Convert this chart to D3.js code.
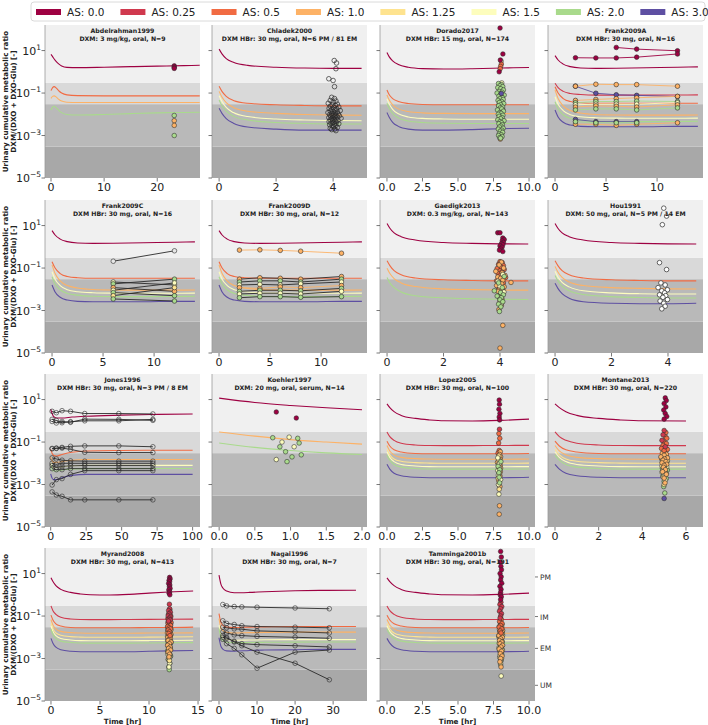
<!DOCTYPE html>
<html><head><meta charset="utf-8">
<script src="https://cdn.jsdelivr.net/npm/d3@7"></script>
<style>body{margin:0;background:#fff}text{font-family:"DejaVu Sans",sans-serif}</style>
</head><body><svg id="c" width="708" height="725"></svg>
<script>
// ---------- legend / categories ----------
const AS_LEVELS = [0, 0.25, 0.5, 1.0, 1.25, 1.5, 2.0, 3.0];
const AS_LABELS = ['AS: 0.0','AS: 0.25','AS: 0.5','AS: 1.0','AS: 1.25','AS: 1.5','AS: 2.0','AS: 3.0'];
const AS_COLORS = ['#9e0142','#d0394e','#f16b43','#fdb266','#fee38f','#fdfdbd','#a9da8c','#5e4fa2'];
const Y_TICKS = [10, 0.1, 1e-3, 1e-5];
const Y_TICK_EXP = ['1','\u22121','\u22123','\u22125'];
const BAND_EDGES = [1e-5, 3e-4, 0.03, 0.3, 160];
const BAND_NAMES = ['UM','EM','IM','PM'];

// ---------- simulated curves ----------
const abdTimes = [0,0.3,0.6,1,1.5,2,3,5,10,15,20,25,28];
const abdCurves = [
 [0,   [6.6,5.2,4.0,3.0,2.3,1.9,1.62,1.58,1.65,1.75,1.85,1.95,2.05]],
 [0.5, [0.13,0.18,0.2,0.17,0.125,0.1,0.082,0.076,0.074,0.074,0.074,0.074,0.074]],
 [1.0, [0.056,0.07,0.074,0.064,0.05,0.042,0.037,0.036,0.036,0.036,0.036,0.036,0.036]],
 [2.0, [0.016,0.022,0.024,0.02,0.015,0.012,0.0098,0.0092,0.0098,0.0108,0.0117,0.0122,0.0125]]
];
const chlTimes = [0,0.1,0.25,0.5,1,2,3,4,5];
const chlCurves = [
 [0,   [11.7,7,4.2,2.8,2.0,1.65,1.5,1.45,1.45]],
 [0.5, [0.21,0.12,0.07,0.045,0.033,0.028,0.026,0.025,0.025]],
 [1.0, [0.12,0.065,0.035,0.021,0.014,0.011,0.0097,0.0092,0.009]],
 [1.5, [0.075,0.04,0.021,0.012,0.0078,0.006,0.0054,0.0051,0.005]],
 [2.0, [0.047,0.025,0.014,0.0082,0.0054,0.0041,0.0037,0.0035,0.0035]],
 [3.0, [0.019,0.011,0.0062,0.0038,0.0025,0.002,0.0018,0.0018,0.0018]]
];
const dorTimes = [0,0.15,0.4,0.8,1.5,2.5,4,6,8,10];
const dorCurves = [
 [0,   [8.1,5.2,3.3,2.2,1.65,1.42,1.35,1.4,1.5,1.6]],
 [0.5, [0.14,0.085,0.055,0.04,0.032,0.029,0.028,0.028,0.028,0.028]],
 [1.0, [0.081,0.048,0.028,0.018,0.0135,0.0117,0.011,0.0107,0.0107,0.0107]],
 [1.5, [0.053,0.031,0.017,0.0105,0.0075,0.0064,0.006,0.0058,0.0058,0.0058]],
 [2.0, [0.033,0.02,0.011,0.0068,0.0048,0.0041,0.0038,0.0037,0.0037,0.0037]],
 [3.0, [0.012,0.0075,0.0042,0.0027,0.002,0.0018,0.0018,0.0019,0.0021,0.0022]]
];
const frkTimes = [0,0.3,0.8,1.5,2.5,4,6,9,12,14];
const frkCurves = [
 [0,    [5.8,3.6,2.3,1.75,1.52,1.45,1.47,1.55,1.65,1.7]],
 [0.25, [0.29,0.18,0.12,0.095,0.085,0.08,0.08,0.08,0.081,0.082]],
 [0.5,  [0.2,0.1,0.055,0.04,0.035,0.033,0.033,0.033,0.033,0.033]],
 [1.0,  [0.14,0.055,0.025,0.015,0.0115,0.0098,0.0093,0.0091,0.0091,0.0092]],
 [1.5,  [0.067,0.03,0.015,0.0095,0.0077,0.0069,0.0066,0.0065,0.0065,0.0066]],
 [2.0,  [0.039,0.018,0.0095,0.0064,0.0053,0.0047,0.0045,0.0045,0.0046,0.0047]],
 [3.0,  [0.016,0.0075,0.0042,0.0031,0.0027,0.0026,0.0026,0.0026,0.0027,0.0027]]
];
const gaeTimes = [0,0.1,0.25,0.5,1,2,3,4,5];
const gaeCurves = [
 [0,   [12.6,7.5,4.5,3.0,2.1,1.6,1.45,1.38,1.35]],
 [0.5, [0.22,0.13,0.075,0.048,0.034,0.028,0.026,0.025,0.025]],
 [1.0, [0.098,0.055,0.032,0.02,0.0135,0.0105,0.0096,0.0092,0.0091]],
 [2.0, [0.036,0.02,0.012,0.0075,0.005,0.004,0.0036,0.0034,0.0033]]
];
const houCurves = [
 [0,   [12.6,7.5,4.5,3.0,2.1,1.6,1.45,1.38,1.35]],
 [0.5, [0.22,0.13,0.075,0.048,0.034,0.028,0.026,0.025,0.025]],
 [1.0, [0.12,0.065,0.036,0.022,0.015,0.012,0.011,0.0105,0.0103]],
 [1.5, [0.07,0.038,0.021,0.013,0.0085,0.0068,0.0062,0.006,0.006]],
 [2.0, [0.045,0.025,0.014,0.0085,0.0057,0.0045,0.0041,0.0039,0.0039]],
 [3.0, [0.019,0.011,0.0062,0.0038,0.0026,0.0022,0.0021,0.0021,0.0022]]
];
const h30Times = [0,0.2,0.5,1,2,3,4,6,8,10,12,14.5];
const h30Curves = [
 [0,    [6.3,4.2,2.7,1.8,1.3,1.1,1.0,0.98,1.05,1.2,1.35,1.5]],
 [0.25, [0.3,0.18,0.12,0.088,0.073,0.069,0.068,0.068,0.069,0.07,0.071,0.072]],
 [0.5,  [0.11,0.065,0.043,0.034,0.029,0.028,0.028,0.028,0.028,0.029,0.029,0.03]],
 [1.0,  [0.069,0.038,0.025,0.019,0.0165,0.0158,0.0155,0.0155,0.0155,0.0158,0.016,0.0162]],
 [1.25, [0.045,0.025,0.016,0.0125,0.0107,0.0102,0.01,0.01,0.01,0.0102,0.0104,0.0106]],
 [1.5,  [0.034,0.019,0.012,0.0088,0.0075,0.007,0.0069,0.0069,0.0069,0.007,0.0071,0.0072]],
 [2.0,  [0.024,0.014,0.0088,0.0066,0.0057,0.0054,0.0053,0.0053,0.0053,0.0054,0.0055,0.0056]],
 [3.0,  [0.0089,0.0053,0.0034,0.0026,0.0022,0.0021,0.0021,0.0021,0.0021,0.0022,0.0023,0.0024]]
];
const jonTimes = [0,1,2,4,8,15,25,50,75,100];
const jonCurves = [
 [0,   [3.5,2.2,1.6,1.35,1.35,1.5,1.65,1.85,2.0,2.1]],
 [0.5, [0.045,0.03,0.024,0.022,0.026,0.033,0.038,0.04,0.041,0.041]],
 [1.0, [0.02,0.013,0.011,0.011,0.012,0.014,0.015,0.015,0.015,0.015]],
 [1.5, [0.011,0.0072,0.0062,0.0062,0.0068,0.0076,0.008,0.008,0.008,0.008]],
 [2.0, [0.0078,0.005,0.0043,0.0043,0.0048,0.0054,0.0056,0.0057,0.0057,0.0057]],
 [3.0, [0.0032,0.002,0.0017,0.0017,0.0021,0.0027,0.003,0.003,0.003,0.003]]
];
const koeTimes = [0,0.5,1,1.5,2];
const koeCurves = [
 [0,   [11.7,7.3,5.3,4.1,3.3]],
 [1.0, [0.3,0.19,0.13,0.1,0.08]],
 [2.0, [0.09,0.056,0.04,0.031,0.026]]
];
const nagTimes = [0,0.5,1,2,4,8,12,20,28,36];
const nagCurves = [
 [0,   [8.5,3.2,2.1,1.5,1.25,1.3,1.4,1.55,1.62,1.65]],
 [0.5, [0.13,0.05,0.037,0.03,0.029,0.03,0.031,0.032,0.032,0.032]],
 [1.0, [0.075,0.028,0.021,0.017,0.016,0.0165,0.017,0.0175,0.0175,0.0175]],
 [1.5, [0.037,0.014,0.0098,0.0078,0.0072,0.0074,0.0076,0.0078,0.0078,0.0078]],
 [2.0, [0.026,0.0098,0.0071,0.0058,0.0055,0.0057,0.0058,0.0059,0.006,0.006]],
 [3.0, [0.0095,0.0038,0.0028,0.0023,0.0022,0.0024,0.0025,0.0026,0.0027,0.0027]]
];

// ---------- individual time courses ----------
const frankATimes = [2,4,6,8,12];
const frankASeries = [
 {as:0, lc:'c', v:[null,null,14,11.7,9.8]},
 {as:0, lc:'c', v:[4.6,4.5,4.5,4.9,6.9]},
 {as:3.0, lc:'c', v:[0.21,0.098,0.083,0.078,0.068]},
 {as:1.0, lc:'c', v:[0.21,0.26,0.25,0.25,0.21]},
 {as:1.0, lc:'c', v:[0.045,0.05,0.055,0.06,0.07]},
 {as:2.0, lc:'c', v:[0.035,0.04,0.04,0.042,0.04]},
 {as:1.5, lc:'c', v:[0.028,0.03,0.03,0.03,0.035]},
 {as:1.0, lc:'c', v:[0.022,0.025,0.024,0.022,0.028]},
 {as:2.0, lc:'c', v:[0.016,0.018,0.018,0.016,0.02]},
 {as:3.0, lc:'c', v:[0.0057,0.0045,0.0045,0.0045,null]},
 {as:1.0, lc:'c', v:[0.0034,0.0034,0.003,0.0034,0.004]},
 {as:2.0, lc:'c', v:[0.0045,0.004,0.004,0.004,null]}
];
const frankCTimes = [6,12];
const frankCSeries = [
 {as:null, lc:'k', v:[0.21,0.65]},
 {as:1.5, lc:'k', v:[0.022,0.016]},
 {as:2.0, lc:'k', v:[0.018,0.03]},
 {as:1.0, lc:'k', v:[0.012,0.008]},
 {as:1.5, lc:'k', v:[0.009,0.02]},
 {as:2.0, lc:'k', v:[0.007,0.005]},
 {as:1.25, lc:'k', v:[0.005,0.012]},
 {as:2.0, lc:'k', v:[0.0035,0.0028]}
];
const frankDTimes = [2,4,6,8,12];
const frankDSeries = [
 {as:1.0, lc:'c', v:[0.7,0.72,0.68,0.62,0.5]},
 {as:1.0, lc:'k', v:[0.03,0.035,0.033,0.03,0.04]},
 {as:2.0, lc:'k', v:[0.022,0.025,0.025,0.022,0.03]},
 {as:1.5, lc:'k', v:[0.016,0.017,0.016,0.018,0.022]},
 {as:1.0, lc:'c', v:[0.012,0.011,0.013,0.012,0.015]},
 {as:2.0, lc:'k', v:[0.008,0.009,0.009,0.0085,0.011]},
 {as:1.5, lc:'k', v:[0.006,0.0065,0.0065,0.006,0.008]},
 {as:2.0, lc:'k', v:[0.004,0.0045,0.0045,0.0042,0.0045]}
];
const jonesTimes = [1,4,8,14,24,48,72];
const jonesSeries = [
 {as:null, lc:'k', v:[2.8,2.4,3.0,2.8,2.2,2.2,2.1]},
 {as:null, lc:'k', v:[1.17,1.05,0.81,0.91,1.0,1.0,1.17]},
 {as:null, lc:'k', v:[0.93,0.79,0.93,0.85,1.2,1.17,1.05]},
 {as:null, lc:'k', v:[0.05,0.052,0.056,0.063,0.066,0.066,0.06]},
 {as:null, lc:'k', v:[0.048,0.05,0.052,0.045,0.033,0.032,0.032]},
 {as:null, lc:'k', v:[0.018,0.016,0.014,0.013,0.0126,0.0126,0.0126]},
 {as:null, lc:'k', v:[0.01,0.0089,0.01,0.01,0.01,0.01,0.01]},
 {as:null, lc:'k', v:[0.0079,0.0063,0.0071,0.0076,0.0079,0.0079,0.0079]},
 {as:null, lc:'k', v:[0.0056,0.005,0.005,0.0056,0.0056,0.0056,0.0056]},
 {as:null, lc:'k', v:[0.00095,0.0017,0.0019,0.003,0.0045,0.0045,0.0045]},
 {as:null, lc:'k', v:[0.00045,0.00032,0.00028,0.00019,0.00019,0.00019,0.00019]}
];
const nagaiTimes = [1,2,4,6,10,20,29];
const nagaiSeries = [
 {as:null, lc:'k', v:[0.35,0.3,0.28,0.27,0.26,0.24,0.22]},
 {as:null, lc:'k', v:[0.06,0.045,0.04,0.035,0.032,0.03,0.028]},
 {as:null, lc:'k', v:[0.03,0.028,0.025,0.024,0.02,0.018,0.016]},
 {as:null, lc:'k', v:[0.018,0.016,0.013,0.012,0.011,0.01,0.009]},
 {as:null, lc:'k', v:[0.01,0.009,0.0065,0.005,0.0045,0.004,0.0035]},
 {as:null, lc:'k', v:[0.008,0.005,0.003,0.0015,0.00035,0.002,0.0025]},
 {as:null, lc:'k', v:[0.012,0.01,0.006,0.004,0.002,0.0006,0.0001]}
];

// ---------- single-time observations [time, ratio] ----------
const abdObs = [
 {as:0, pts:[[23.2,1.9],[23.2,1.65],[23.2,1.45]]},
 {as:2.0, pts:[[23.2,0.0088],[23.2,0.001]]},
 {as:1.0, pts:[[23.2,0.005],[23.2,0.003]]}
];
const chlObs = [
 {as:null, pts:[[4.04,3.4],[4.12,2.6],[4.1,1.4],[3.85,0.47],[4.0,0.39],[4.05,0.2],
 [3.95,0.063],[4.05,0.055],[3.9,0.045],[4.1,0.042],[4.0,0.038],[3.83,0.033],[4.15,0.03],[3.97,0.028],[4.08,0.026],[3.9,0.024],
 [4.2,0.022],[4.02,0.021],[3.86,0.019],[4.12,0.018],[3.95,0.017],[4.06,0.016],[4.25,0.015],[3.9,0.014],[4.0,0.0135],[4.15,0.013],
 [3.82,0.012],[4.08,0.0115],[3.96,0.011],[4.18,0.0105],[4.03,0.01],[3.88,0.0095],[4.1,0.009],[3.98,0.0088],[4.22,0.0085],[3.92,0.008],
 [4.05,0.0078],[4.14,0.0075],[3.85,0.007],[4.0,0.0068],[4.28,0.0065],[3.95,0.0062],[4.1,0.006],[4.04,0.0057],[3.9,0.0055],[4.17,0.0052],
 [3.98,0.005],[4.07,0.0047],[3.86,0.0045],[4.12,0.0043],[4.0,0.004],[3.93,0.0038],[4.2,0.0036],[4.05,0.0034],[3.88,0.0032],[4.1,0.003],
 [3.97,0.0028],[4.02,0.0026],[4.15,0.0024],[3.9,0.0022],[4.06,0.002],[3.95,0.0019],[4.1,0.0017]]}
];
const dorObs = [
 {as:1.5, pts:[[8.08,0.3],[7.92,0.19],[8.12,0.14],[7.98,0.075],[8.05,0.048],[7.86,0.027],[8.15,0.017],[7.95,0.0085],[8.1,0.0042],[7.9,0.0022],[8.02,0.0011],[8.04,3.2]]},
 {as:1.0, pts:[[7.96,0.24],[8.1,0.033],[7.92,0.0065],[7.98,0.00068]]},
 {as:2.0, pts:[[7.85,0.28],[8.05,0.25],[7.95,0.22],[8.15,0.2],[7.8,0.18],[8.0,0.16],[8.2,0.14],[7.9,0.12],[8.1,0.11],[7.75,0.1],
 [8.02,0.09],[8.25,0.08],[7.88,0.07],[8.12,0.062],[7.96,0.055],[8.18,0.05],[7.82,0.045],[8.06,0.04],[7.92,0.036],[8.22,0.032],
 [8.0,0.028],[7.86,0.025],[8.14,0.022],[7.98,0.02],[8.08,0.018],[7.78,0.016],[8.2,0.014],[7.94,0.012],[8.04,0.011],[7.84,0.01],
 [8.16,0.009],[7.9,0.008],[8.1,0.007],[8.0,0.0062],[7.8,0.0055],[8.24,0.005],[7.96,0.0045],[8.06,0.004],[7.88,0.0036],[8.12,0.0032],
 [8.02,0.0028],[7.92,0.0025],[8.18,0.0022],[7.84,0.002],[8.08,0.0018],[7.98,0.0016],[8.14,0.0014],[7.9,0.0012],[8.04,0.0011],[7.86,0.001],
 [8.1,0.0009],[7.94,0.0008],[8.0,0.00075]]},
 {as:3.0, pts:[[8.05,0.095]]},
 {as:0.5, pts:[[8.05,2.3],[8.0,1.8],[7.97,1.4]]},
 {as:0, pts:[[7.96,115],[8.16,6.9],[7.98,3.6],[7.9,1.0]]}
];
const gaeObs = [
 {as:0, pts:[[3.92,4.6],[4.0,4.6],[4.1,2.6],[4.15,2.2],[4.08,1.9],[4.12,1.6],[4.05,1.4],[4.1,1.25],[4.0,1.1],[4.07,0.95],[4.02,0.8],[3.98,0.7],[4.1,0.6]]},
 {as:0.5, pts:[[4.0,0.2],[4.08,0.18],[3.95,0.15],[4.12,0.13],[4.03,0.11],[3.9,0.095],[4.15,0.085],[4.0,0.075],[4.07,0.065],[3.93,0.055],
 [4.1,0.05],[3.98,0.042],[4.2,0.036],[4.05,0.03],[3.88,0.025],[4.12,0.02],[4.0,0.016],[3.95,0.012],[4.1,0.009],[4.03,0.006]]},
 {as:1.0, pts:[[4.05,0.19],[3.97,0.14],[4.13,0.1],[3.85,0.07],[4.08,0.06],[4.18,0.045],[3.92,0.038],[4.02,0.033],[4.1,0.027],[3.95,0.022],
 [4.06,0.018],[3.88,0.015],[4.15,0.013],[4.0,0.011],[4.08,0.0095],[3.93,0.008],[4.12,0.007],[4.02,0.0058],[3.97,0.0045],[4.07,0.0035],
 [4.0,0.0028],[4.05,0.0018],[3.96,0.0011],[4.1,0.0002],[4.0,0.000017],[4.39,0.021]]},
 {as:1.5, pts:[[4.1,0.05],[3.92,0.024],[4.0,0.014],[4.14,0.0075],[3.98,0.004],[4.05,0.0022]]},
 {as:2.0, pts:[[4.15,0.04],[3.95,0.02],[4.08,0.012],[3.8,0.0085],[4.02,0.007],[4.12,0.0055],[3.9,0.0048],[4.05,0.004],[4.0,0.0032],[4.1,0.0026],[3.95,0.002],[4.03,0.0015],[3.98,0.0009]]}
];
const houObs = [
 {as:null, pts:[[3.85,66],[3.95,28],[3.8,11],[3.7,0.18],[3.95,0.085],[3.75,0.02],[3.9,0.016],[3.65,0.012],[3.98,0.0095],[3.78,0.0085],
 [3.88,0.0068],[3.7,0.0055],[3.92,0.005],[3.82,0.0042],[3.98,0.0033],[3.72,0.0028],[3.85,0.0022],[3.9,0.0016],[3.78,0.0012]]}
];
const koeObs = [
 {as:0, pts:[[0.8,2.6],[1.08,1.35]]},
 {as:2.0, pts:[[0.75,0.16],[1.1,0.15],[0.85,0.06],[0.93,0.035],[1.15,0.025],[0.95,0.012],[1.02,0.02],[1.12,0.09]]},
 {as:1.5, pts:[[0.98,0.17],[1.05,0.06],[0.8,0.015],[0.88,0.1]]}
];
const lopObs = [
 {as:0, pts:[[7.9,9.5],[7.92,6],[7.88,3.5],[7.95,2.2],[7.9,1.5],[7.93,1.1]]},
 {as:0.25, pts:[[7.92,0.4]]},
 {as:0.5, pts:[[7.88,0.25],[7.94,0.15],[7.86,0.09],[7.9,0.04],[7.82,0.03]]},
 {as:1.0, pts:[[7.98,0.035],[7.93,0.026],[8.0,0.02],[7.95,0.016],[7.78,0.011],[7.97,0.008],[8.0,0.006],[7.98,0.004],[7.96,0.0025],[7.87,0.0015],[7.95,0.0008],[7.92,0.0001],[7.9,0.00004]]},
 {as:1.25, pts:[[7.87,0.022],[7.88,0.014],[7.85,0.009],[7.86,0.0055],[7.92,0.0032],[7.82,0.002],[7.9,0.0006]]},
 {as:1.5, pts:[[7.8,0.018],[7.92,0.01],[7.9,0.0065],[7.8,0.0045],[7.84,0.0028],[8.0,0.0017],[7.85,0.001],[7.88,0.00035]]},
 {as:2.0, pts:[[8.02,0.012],[7.82,0.0072],[7.94,0.005],[7.88,0.0036],[7.9,0.0022],[7.93,0.0012]]}
];
const monObs = [
 {as:0, pts:[[5.05,12],[5.1,9],[5.0,6.5],[5.08,4.5],[4.98,3.2],[5.05,2.2],[5.12,1.6],[5.0,1.2]]},
 {as:2.0, pts:[[5.02,0.02],[4.9,0.015],[5.12,0.012],[4.97,0.009],[5.08,0.0072],[4.92,0.0058],[5.15,0.0048],[5.0,0.004],[5.05,0.0032],[4.94,0.0025],[5.1,0.0019],[5.0,0.0014],[4.98,0.0008],[5.03,0.0004]]},
 {as:1.5, pts:[[5.1,0.022],[5.04,0.015],[4.93,0.011],[5.08,0.0085],[5.12,0.0068],[4.95,0.0052],[4.9,0.0038],[5.0,0.0027],[5.05,0.0016]]},
 {as:1.25, pts:[[4.98,0.028],[4.88,0.018],[5.15,0.013],[5.0,0.0095],[4.9,0.0075],[5.02,0.006],[5.06,0.0045],[5.1,0.0033],[4.96,0.0022],[5.0,0.001]]},
 {as:1.0, pts:[[5.05,0.035],[4.92,0.03],[5.1,0.027],[5.0,0.024],[4.85,0.02],[5.15,0.018],[5.02,0.016],[4.95,0.014],[5.08,0.012],[4.9,0.0105],[5.12,0.009],[5.0,0.008],[4.97,0.0065],[5.06,0.005],[4.93,0.004],[5.1,0.003],[5.0,0.002],[5.04,0.0012]]},
 {as:0.5, pts:[[5.08,0.28],[5.05,0.18],[5.12,0.15],[5.0,0.1],[5.1,0.085],[4.95,0.07],[4.88,0.05],[5.15,0.045],[5.0,0.04]]},
 {as:0.25, pts:[[5.0,0.35],[4.95,0.22],[4.9,0.12],[5.05,0.06]]},
 {as:3.0, pts:[[5.0,0.00022]]}
];
const myrObs = [
 {as:2.0, pts:[[12.1,0.012],[11.95,0.0075],[12.22,0.0055],[12.0,0.0042],[12.15,0.0031],[11.9,0.0023],[12.08,0.0017],[12.2,0.0013],[11.96,0.0009],[12.12,0.0006],[12.02,0.0004],[12.06,0.0003]]},
 {as:1.5, pts:[[12.02,0.025],[12.16,0.015],[11.9,0.011],[12.06,0.008],[12.2,0.0065],[11.94,0.0052],[12.1,0.0043],[11.98,0.0034],[12.18,0.0027],[12.04,0.0021],[11.92,0.0016],[12.14,0.0012],[12.0,0.0009],[12.1,0.0006],[12.04,0.0004]]},
 {as:1.25, pts:[[12.18,0.03],[11.92,0.022],[12.08,0.017],[12.22,0.013],[11.98,0.0105],[12.12,0.0088],[11.9,0.0072],[12.2,0.006],[12.02,0.005],[11.95,0.004],[12.16,0.0032],[12.06,0.0026],[11.92,0.002],[12.12,0.0015],[12.0,0.0011],[12.08,0.0008]]},
 {as:1.0, pts:[[11.95,0.05],[12.2,0.042],[12.05,0.035],[11.9,0.03],[12.15,0.026],[12.25,0.023],[11.98,0.02],[12.1,0.018],[11.88,0.016],[12.22,0.014],[12.02,0.012],[12.12,0.011],[11.92,0.01],[12.18,0.009],[12.05,0.008],[11.95,0.007],[12.25,0.006],[12.08,0.005],[11.9,0.0042],[12.15,0.0035],[12.0,0.003],[12.2,0.0025],[11.96,0.002],[12.1,0.0016],[12.04,0.0012]]},
 {as:0.5, pts:[[12.12,0.2],[11.98,0.12],[12.22,0.1],[12.05,0.085],[11.92,0.075],[12.15,0.068],[12.0,0.055],[12.25,0.05],[11.95,0.045],[12.1,0.04],[12.2,0.036],[11.9,0.032],[12.05,0.028],[12.18,0.025],[11.96,0.022],[12.1,0.018],[12.02,0.015],[12.14,0.012]]},
 {as:0.25, pts:[[12.08,0.36],[12.1,0.22],[12.0,0.18],[12.18,0.15],[12.05,0.13],[12.12,0.11],[11.95,0.1],[12.2,0.09],[12.08,0.08],[12.02,0.07],[12.15,0.065],[11.98,0.058]]},
 {as:0, pts:[[12.1,6.6],[12.15,5.6],[12.05,4.8],[12.1,4.1],[12.0,3.4],[12.12,2.9],[12.08,2.4],[12.15,2.0],[12.02,1.7],[12.1,1.4],[12.05,1.2],[12.12,1.0]]}
];
const tamObs = [
 {as:2.0, pts:[[8.12,0.018],[7.9,0.011],[8.04,0.0075],[7.96,0.0055],[8.1,0.0042],[8.0,0.0033],[7.92,0.0025],[8.06,0.0018],[7.98,0.0012],[8.02,0.0008]]},
 {as:1.5, pts:[[7.94,0.022],[8.06,0.016],[8.14,0.0125],[7.9,0.0098],[8.0,0.0078],[8.1,0.0062],[7.96,0.005],[8.04,0.004],[7.88,0.0032],[8.12,0.0026],[7.98,0.002],[8.08,0.0015],[7.94,0.0011],[8.02,0.0008],[8.0,0.0005],[8.04,0.00015]]},
 {as:1.25, pts:[[8.08,0.03],[7.92,0.024],[8.0,0.019],[8.12,0.015],[7.88,0.012],[8.04,0.0095],[7.96,0.0078],[8.1,0.0064],[7.9,0.0052],[8.06,0.0043],[8.0,0.0036],[7.94,0.003],[8.12,0.0024],[8.02,0.0019],[7.96,0.0014],[8.06,0.001],[8.0,0.0006]]},
 {as:1.0, pts:[[7.98,0.05],[8.1,0.04],[7.9,0.032],[8.04,0.026],[8.14,0.021],[7.94,0.017],[8.06,0.014],[7.88,0.012],[8.12,0.01],[8.0,0.0085],[7.92,0.007],[8.08,0.006],[7.96,0.005],[8.14,0.0042],[8.02,0.0035],[7.9,0.0028],[8.06,0.0022],[7.98,0.0017],[8.1,0.0013],[8.0,0.001],[7.95,0.0007],[8.03,0.0004]]},
 {as:0.5, pts:[[8.05,0.07],[7.93,0.055],[8.1,0.045],[8.0,0.036],[7.9,0.03],[8.08,0.025],[7.97,0.02],[8.03,0.016]]},
 {as:0.25, pts:[[8.02,0.45],[7.95,0.35],[8.08,0.28],[8.0,0.22],[7.92,0.17],[8.06,0.13],[8.0,0.1],[7.96,0.08]]},
 {as:0, pts:[[8.0,110],[8.05,60],[7.98,35],[8.02,22],[8.06,15],[7.96,10],[8.04,7],[8.0,5],[8.08,3.5],[7.95,2.5],[8.03,1.8],[8.0,1.3],[7.97,1.0],[8.05,0.8],[8.0,0.6]]}
];

// ---------- panels ----------
const panels = [
 {id:'Abdelrahman1999', sub:'DXM: 3 mg/kg, oral, N=9', c:0, r:0, xd:[-1.13,28.05], ticks:[0,10,20], dec:0, ct:abdTimes, cv:abdCurves, obs:abdObs},
 {id:'Chladek2000', sub:'DXM HBr: 30 mg, oral, N=6 PM / 81 EM', c:1, r:0, xd:[-0.25,5.19], ticks:[0,2,4], dec:0, ct:chlTimes, cv:chlCurves, obs:chlObs, hollowFill:'none'},
 {id:'Dorado2017', sub:'DXM HBr: 15 mg, oral, N=174', c:2, r:0, xd:[-0.49,10.42], ticks:[0,2.5,5,7.5,10], dec:1, ct:dorTimes, cv:dorCurves, obs:dorObs},
 {id:'Frank2009A', sub:'DXM HBr: 30 mg, oral, N=16', c:3, r:0, xd:[-0.69,14.5], ticks:[0,5,10], dec:0, ct:frkTimes, cv:frkCurves, st:frankATimes, series:frankASeries},
 {id:'Frank2009C', sub:'DXM HBr: 30 mg, oral, N=16', c:0, r:1, xd:[-0.69,14.5], ticks:[0,5,10], dec:0, ct:frkTimes, cv:frkCurves, skipAS:[0.25], st:frankCTimes, series:frankCSeries, hollowFill:'#e6e6e6'},
 {id:'Frank2009D', sub:'DXM HBr: 30 mg, oral, N=12', c:1, r:1, xd:[-0.69,14.5], ticks:[0,5,10], dec:0, ct:frkTimes, cv:frkCurves, skipAS:[0.25], st:frankDTimes, series:frankDSeries},
 {id:'Gaedigk2013', sub:'DXM: 0.3 mg/kg, oral, N=143', c:2, r:1, xd:[-0.25,5.24], ticks:[0,2,4], dec:0, ct:gaeTimes, cv:gaeCurves, obs:gaeObs},
 {id:'Hou1991', sub:'DXM: 50 mg, oral, N=5 PM / 14 EM', c:3, r:1, xd:[-0.25,5.24], ticks:[0,2,4], dec:0, ct:gaeTimes, cv:houCurves, obs:houObs, hollowFill:'#ffffff'},
 {id:'Jones1996', sub:'DXM HBr: 30 mg, oral, N=3 PM / 8 EM', c:0, r:2, xd:[-4.0,105.2], ticks:[0,25,50,75,100], dec:0, ct:jonTimes, cv:jonCurves, st:jonesTimes, series:jonesSeries, hollowFill:'none'},
 {id:'Koehler1997', sub:'DXM: 20 mg, oral, serum, N=14', c:1, r:2, xd:[-0.1,2.07], ticks:[0,0.5,1,1.5,2], dec:1, ct:koeTimes, cv:koeCurves, obs:koeObs},
 {id:'Lopez2005', sub:'DXM HBr: 30 mg, oral, N=100', c:2, r:2, xd:[-0.49,10.42], ticks:[0,2.5,5,7.5,10], dec:1, ct:h30Times, cv:h30Curves, tmax:10, obs:lopObs},
 {id:'Montane2013', sub:'DXM HBr: 30 mg, oral, N=220', c:3, r:2, xd:[-0.32,6.78], ticks:[0,2,4,6], dec:0, ct:h30Times, cv:h30Curves, tmax:6.5, obs:monObs},
 {id:'Myrand2008', sub:'DXM HBr: 30 mg, oral, N=413', c:0, r:3, xd:[-0.61,15.2], ticks:[0,5,10,15], dec:0, ct:h30Times, cv:h30Curves, tmax:14.5, obs:myrObs, xlabel:true},
 {id:'Nagai1996', sub:'DXM HBr: 30 mg, oral, N=7', c:1, r:3, xd:[-1.84,38.9], ticks:[0,10,20,30], dec:0, ct:nagTimes, cv:nagCurves, st:nagaiTimes, series:nagaiSeries, hollowFill:'none', xlabel:true},
 {id:'Tamminga2001b', sub:'DXM HBr: 30 mg, oral, N=191', c:2, r:3, xd:[-0.49,10.42], ticks:[0,2.5,5,7.5,10], dec:1, ct:h30Times, cv:h30Curves, tmax:10, obs:tamObs, xlabel:true, bandLabels:true}
];

// ---------- layout ----------
const COL_X = [45, 212, 380, 548], ROW_Y = [25, 200, 374, 548];
const PW = 155, PH = 153;
const BAND_FILLS = ['#a8a8a8', '#b9b9b9', '#d9d9d9', '#f0f0f0'];
const color = as => AS_COLORS[AS_LEVELS.indexOf(as)];

const svg = d3.select('#c');
svg.append('rect').attr('width', 708).attr('height', 725).attr('fill', '#fff');
const defs = svg.append('defs');

// legend
const lg = svg.append('g');
lg.append('rect').attr('x', 31).attr('y', 2).attr('width', 674).attr('height', 19).attr('rx', 3)
  .attr('fill', '#fff').attr('stroke', '#d0d0d0').attr('stroke-width', 0.8);
let tx = 67;
AS_LEVELS.forEach((a, i) => {
  lg.append('rect').attr('x', tx - 31).attr('y', 9).attr('width', 25).attr('height', 6).attr('fill', color(a));
  const t = lg.append('text').attr('x', tx).attr('y', 16).attr('font-size', 10.5).attr('fill', '#222').text(AS_LABELS[i]);
  tx += t.node().getComputedTextLength() + 47;
});

panels.forEach(p => {
  const x0 = COL_X[p.c], y0 = ROW_Y[p.r];
  const xs = d3.scaleLinear().domain(p.xd).range([x0, x0 + PW]);
  const ys = d3.scaleLog().domain([BAND_EDGES[0], BAND_EDGES[4]]).range([y0 + PH, y0]);
  const cid = 'clip-' + p.id;
  defs.append('clipPath').attr('id', cid).append('rect').attr('x', x0).attr('y', y0).attr('width', PW).attr('height', PH);
  const g = svg.append('g');
  const pg = g.append('g').attr('clip-path', `url(#${cid})`);
  BAND_NAMES.forEach((n, i) => {
    pg.append('rect').attr('x', x0).attr('width', PW)
      .attr('y', ys(BAND_EDGES[i + 1])).attr('height', ys(BAND_EDGES[i]) - ys(BAND_EDGES[i + 1]))
      .attr('fill', BAND_FILLS[i]);
  });
  const line = d3.line().x(d => xs(d[0])).y(d => ys(d[1])).curve(d3.curveMonotoneX);
  p.cv.forEach(([as, vals]) => {
    if (p.skipAS && p.skipAS.includes(as)) return;
    const pts = p.ct.map((t, i) => [t, vals[i]]).filter(d => p.tmax == null || d[0] <= p.tmax);
    pg.append('path').attr('d', line(pts)).attr('fill', 'none').attr('stroke', color(as)).attr('stroke-width', 1.1);
  });
  const hollow = p.hollowFill || 'none';
  if (p.series) {
    const sl = d3.line().defined(d => d[1] != null).x(d => xs(d[0])).y(d => ys(d[1]));
    p.series.forEach(s => {
      const pts = p.st.map((t, i) => [t, s.v[i]]);
      pg.append('path').attr('d', sl(pts)).attr('fill', 'none')
        .attr('stroke', s.lc === 'c' && s.as != null ? color(s.as) : '#2a2a2a').attr('stroke-width', 0.9);
    });
    p.series.forEach(s => {
      p.st.forEach((t, i) => {
        if (s.v[i] == null) return;
        pg.append('circle').attr('cx', xs(t)).attr('cy', ys(s.v[i])).attr('r', 2.3)
          .attr('fill', s.as == null ? hollow : color(s.as)).attr('stroke', '#2a2a2a').attr('stroke-width', 0.6);
      });
    });
  }
  if (p.obs) {
    p.obs.forEach(grp => {
      grp.pts.forEach(([t, v]) => {
        pg.append('circle').attr('cx', xs(t)).attr('cy', ys(v)).attr('r', 2.3)
          .attr('fill', grp.as == null ? hollow : color(grp.as))
          .attr('stroke', '#2a2a2a').attr('stroke-width', grp.as == null ? 0.7 : 0.55);
      });
    });
  }
  // titles
  g.append('text').attr('x', x0 + PW / 2).attr('y', y0 + 8.3).attr('text-anchor', 'middle')
    .attr('font-size', 6.2).attr('font-weight', 'bold').attr('fill', '#222').text(p.id);
  g.append('text').attr('x', x0 + PW / 2).attr('y', y0 + 15.8).attr('text-anchor', 'middle')
    .attr('font-size', 6.2).attr('font-weight', 'bold').attr('fill', '#222').text(p.sub);
  // left spine + y ticks
  g.append('line').attr('x1', x0).attr('x2', x0).attr('y1', y0).attr('y2', y0 + PH).attr('stroke', '#9a9a9a').attr('stroke-width', 0.8);
  Y_TICKS.forEach((v, i) => {
    g.append('line').attr('x1', x0 - 3.5).attr('x2', x0).attr('y1', ys(v)).attr('y2', ys(v)).attr('stroke', '#555').attr('stroke-width', 0.8);
    if (p.c === 0) {
      const t = g.append('text').attr('x', x0 - 4).attr('y', ys(v) + 4).attr('text-anchor', 'end')
        .attr('font-size', 11).attr('fill', '#222');
      t.append('tspan').text('10');
      t.append('tspan').attr('dy', -5).attr('font-size', 7.5).text(Y_TICK_EXP[i]);
    }
  });
  // x ticks
  const fmt = p.dec ? d3.format('.1f') : d3.format('d');
  p.ticks.forEach(v => {
    g.append('line').attr('x1', xs(v)).attr('x2', xs(v)).attr('y1', y0 + PH).attr('y2', y0 + PH + 3.5).attr('stroke', '#555').attr('stroke-width', 0.8);
    g.append('text').attr('x', xs(v)).attr('y', y0 + PH + 13).attr('text-anchor', 'middle')
      .attr('font-size', 11).attr('fill', '#222').text(fmt(v));
  });
  if (p.xlabel) {
    g.append('text').attr('x', x0 + PW / 2).attr('y', y0 + PH + 23).attr('text-anchor', 'middle')
      .attr('font-size', 7.2).attr('font-weight', 'bold').attr('fill', '#222').text('Time [hr]');
  }
  if (p.c === 0) {
    const cy = y0 + PH / 2;
    g.append('text').attr('transform', `translate(7.5,${cy}) rotate(-90)`).attr('text-anchor', 'middle')
      .attr('font-size', 7.2).attr('font-weight', 'bold').attr('fill', '#222').text('Urinary cumulative metabolic ratio');
    g.append('text').attr('transform', `translate(16,${cy}) rotate(-90)`).attr('text-anchor', 'middle')
      .attr('font-size', 7.2).attr('font-weight', 'bold').attr('fill', '#222').text('DXM/(DXO + DXO-Glu) [-]');
  }
  if (p.bandLabels) {
    BAND_NAMES.forEach((n, i) => {
      const yc = ys(Math.sqrt(BAND_EDGES[i] * BAND_EDGES[i + 1]));
      g.append('line').attr('x1', x0 + PW).attr('x2', x0 + PW + 3).attr('y1', yc).attr('y2', yc).attr('stroke', '#555').attr('stroke-width', 0.8);
      g.append('text').attr('x', x0 + PW + 5).attr('y', yc + 3).attr('font-size', 7.5).attr('fill', '#333').text(n);
    });
  }
});
</script></body></html>
